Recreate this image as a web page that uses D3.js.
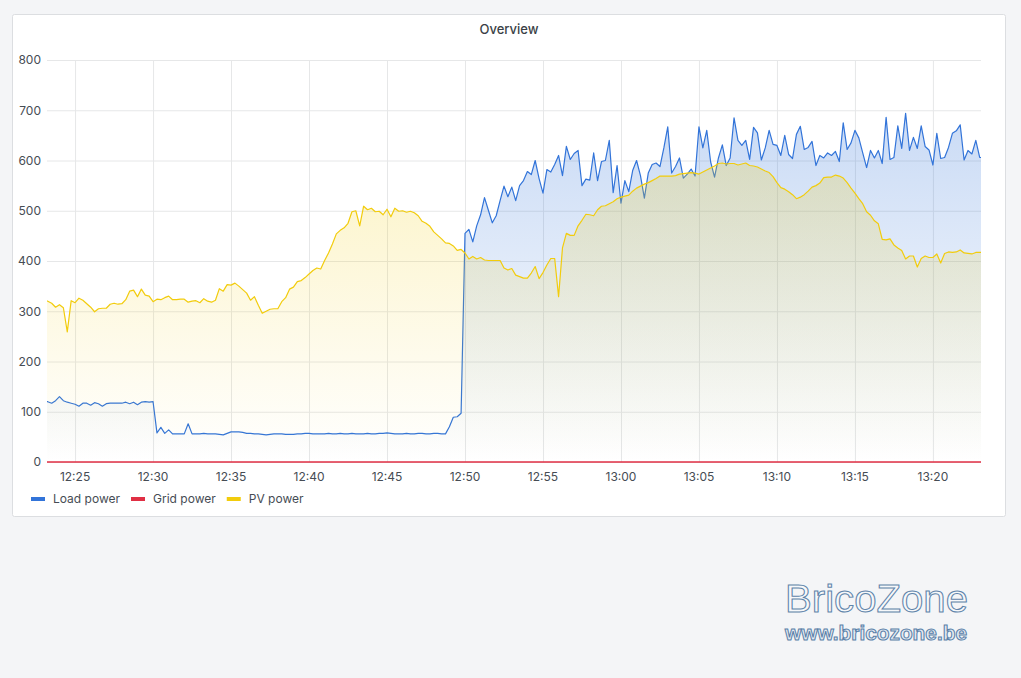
<!DOCTYPE html>
<html>
<head>
<meta charset="utf-8">
<script src="https://cdn.jsdelivr.net/npm/d3@7"></script>
<style>
  html, body { margin: 0; padding: 0; background: #f4f5f7; }
  svg { display: block; font-family: Inter, "Open Sans", sans-serif; }
</style>
</head>
<body>
<svg id="chart" width="1021" height="678"></svg>
<script>
// samples every 15 s starting at 12:23:00
const startTime = "12:23:00";
const stepSeconds = 15;

// Load power (W), one row per minute
const loadPower = [
  121,120,117,122, 130,122,119,117, 115,111,117,117, 113,118,116,111,
  116,117,117,117, 117,119,116,119, 114,119,120,119, 120,58,69,57,
  64,56,56,56, 56,76,56,56, 56,57,56,56, 56,55,54,57,
  60,60,60,59, 57,57,56,56, 55,54,55,56, 56,56,55,55,
  55,56,56,57, 57,56,56,56, 56,57,56,56, 57,56,56,57,
  56,56,56,57, 56,56,57,57, 58,57,56,56, 56,57,56,56,
  57,57,56,56, 57,57,56,56, 70,89,90,97, 455,463,438,470,
  492,526,501,476, 490,520,549,528, 547,520,550,560, 578,572,600,564,
  535,582,577,592, 610,570,628,602, 614,620,550,563, 561,615,560,598,
  600,640,536,590, 515,560,538,580, 600,570,525,575, 592,595,588,625,
  667,575,588,605, 565,573,583,569, 667,625,660,597, 567,605,631,590,
  605,685,640,630, 640,602,666,655, 601,625,660,632, 630,610,650,612,
  604,652,668,622, 626,638,590,610, 605,615,610,618, 598,675,622,635,
  660,645,615,586, 620,605,620,594, 686,602,606,669, 624,694,620,646,
  624,669,628,621, 591,654,604,606, 626,654,659,671, 601,620,613,640,
  606,606
];

// PV power (W)
const pvPower = [
  322,320,316,308, 313,307,259,321, 317,326,322,315, 308,299,305,306,
  306,314,316,314, 315,323,340,342, 329,344,332,330, 319,324,323,327,
  330,323,323,324, 324,318,320,321, 317,325,320,318, 322,345,340,353,
  352,356,350,343, 336,322,329,312, 296,300,304,305, 305,319,327,344,
  348,359,361,367, 374,381,386,384, 401,416,434,454, 461,466,475,498,
  500,470,509,502, 505,498,499,492, 503,488,505,499, 500,497,499,496,
  490,479,475,469, 458,451,444,436, 435,430,421,423, 416,404,409,404,
  407,402,401,401, 401,401,386,382, 385,372,369,366, 366,376,389,365,
  377,392,405,405, 329,426,455,451, 451,470,481,493, 492,490,502,509,
  510,514,518,524, 527,529,531,539, 545,549,553,556, 560,564,569,569,
  569,569,570,573, 574,575,576,575, 573,577,581,585, 589,594,595,593,
  594,594,591,593, 595,590,589,587, 583,579,576,568, 556,546,543,538,
  532,524,527,532, 539,547,550,555, 566,567,567,571, 569,565,556,545,
  535,524,514,498, 491,480,474,443, 442,444,432,426, 421,404,410,410,
  388,405,410,407, 407,414,396,415, 418,417,418,422, 416,415,414,417,
  417,417
];

// Grid power stays at 0 for the whole range
const gridTimes = ["12:23:00", "13:23:15"];
const gridPower = [0, 0];

const seriesNames  = ["Load power", "Grid power", "PV power"];
const seriesColors = ["#3274d9", "#e02f44", "#f2cc0c"];
const xTickLabels  = ["12:25","12:30","12:35","12:40","12:45","12:50","12:55","13:00","13:05","13:10","13:15","13:20"];
const yTicks       = [0, 100, 200, 300, 400, 500, 600, 700, 800];
const xRange       = ["12:23:12", "13:23:05"];

const svg = d3.select("#chart");
const margin = { top: 60, left: 47 };
const innerWidth = 934;
const innerHeight = 402;

const parse = d3.timeParse("%H:%M:%S");
const t0 = parse(startTime);
const times = loadPower.map((d, i) => d3.timeSecond.offset(t0, i * stepSeconds));

// panel
svg.append("rect")
  .attr("x", 12.5).attr("y", 14.5)
  .attr("width", 993).attr("height", 502)
  .attr("rx", 2)
  .attr("fill", "#ffffff")
  .attr("stroke", "#dcdee1");

svg.append("text")
  .attr("x", 509).attr("y", 33.5)
  .attr("text-anchor", "middle")
  .attr("font-size", 13).attr("font-weight", 500)
  .attr("fill", "#3a3f46")
  .text("Overview");

const g = svg.append("g")
  .attr("transform", `translate(${margin.left},${margin.top})`);

// scales
const x = d3.scaleTime().domain(xRange.map(parse)).range([0, innerWidth]);
const y = d3.scaleLinear().domain([0, 800]).range([innerHeight, 0]);
const xTickDates = xTickLabels.map(s => parse(s + ":00"));

// grid lines (no labels)
const yGrid = g.append("g")
  .call(d3.axisLeft(y).tickValues(yTicks).tickSize(-innerWidth).tickFormat(""));
const xGrid = g.append("g").attr("transform", `translate(0,${innerHeight})`)
  .call(d3.axisBottom(x).tickValues(xTickDates).tickSize(-innerHeight).tickFormat(""));
[xGrid, yGrid].forEach(a => {
  a.select(".domain").remove();
  a.selectAll(".tick line").attr("stroke", "#e6e7e8");
  a.selectAll(".tick text").remove();
});

// tick labels
g.append("g").selectAll("text")
  .data(yTicks)
  .enter().append("text")
    .attr("x", -6)
    .attr("y", d => y(d) + 4.3)
    .attr("text-anchor", "end")
    .attr("font-size", 12).attr("fill", "#464c54")
    .text(d => d);

g.append("g").selectAll("text")
  .data(xTickDates)
  .enter().append("text")
    .attr("x", d => x(d))
    .attr("y", innerHeight + 19.3)
    .attr("text-anchor", "middle")
    .attr("font-size", 12).attr("fill", "#464c54")
    .text(d3.timeFormat("%H:%M"));

// gradients
const defs = svg.append("defs");
seriesColors.forEach((c, i) => {
  const lg = defs.append("linearGradient")
    .attr("id", "fill" + i)
    .attr("gradientUnits", "userSpaceOnUse")
    .attr("x1", 0).attr("y1", 0).attr("x2", 0).attr("y2", innerHeight);
  lg.append("stop").attr("offset", 0).attr("stop-color", c).attr("stop-opacity", 0.3);
  lg.append("stop").attr("offset", 1).attr("stop-color", c).attr("stop-opacity", 0);
});

defs.append("clipPath").attr("id", "plotClip")
  .append("rect").attr("x", 0).attr("y", -2).attr("width", innerWidth).attr("height", innerHeight + 4);

const series = [
  { t: times, v: loadPower },
  { t: gridTimes.map(parse), v: gridPower },
  { t: times, v: pvPower }
];

const plot = g.append("g").attr("clip-path", "url(#plotClip)");

series.forEach((s, i) => {
  const pts = s.v.map((v, j) => [s.t[j], v]);
  const area = d3.area().x(d => x(d[0])).y0(innerHeight).y1(d => y(d[1]));
  const line = d3.line().x(d => x(d[0])).y(d => y(d[1]));
  if (i !== 1) {
    plot.append("path").datum(pts).attr("d", area).attr("fill", `url(#fill${i})`);
  }
  plot.append("path").datum(pts).attr("d", line)
    .attr("fill", "none")
    .attr("stroke", seriesColors[i])
    .attr("stroke-width", i === 1 ? 1.5 : 1.2)
    .attr("stroke-linejoin", "round");
});

// legend
const legend = svg.append("g").attr("transform", "translate(31,499)");
let lx = 0;
seriesNames.forEach((name, i) => {
  legend.append("line")
    .attr("x1", lx).attr("x2", lx + 14)
    .attr("y1", 0).attr("y2", 0)
    .attr("stroke", seriesColors[i]).attr("stroke-width", 4);
  const t = legend.append("text")
    .attr("x", lx + 22).attr("y", 4.3)
    .attr("font-size", 12).attr("fill", "#464c54")
    .text(name);
  lx += 22 + t.node().getComputedTextLength() + 11;
});

// watermark
svg.append("text")
  .attr("x", 785).attr("y", 612)
  .attr("font-family", "'Liberation Sans', Arial, sans-serif")
  .attr("font-size", 38)
  .attr("textLength", 183).attr("lengthAdjust", "spacingAndGlyphs")
  .attr("fill", "#f6f8fa").attr("stroke", "#5f84aa").attr("stroke-width", 1)
  .text("BricoZone");

svg.append("text")
  .attr("x", 785).attr("y", 640)
  .attr("font-family", "'Liberation Sans', Arial, sans-serif")
  .attr("font-size", 20).attr("font-weight", "bold")
  .attr("textLength", 182).attr("lengthAdjust", "spacingAndGlyphs")
  .attr("fill", "#e4ebf2").attr("stroke", "#5a80a8").attr("stroke-width", 1)
  .text("www.bricozone.be");
</script>
</body>
</html>
